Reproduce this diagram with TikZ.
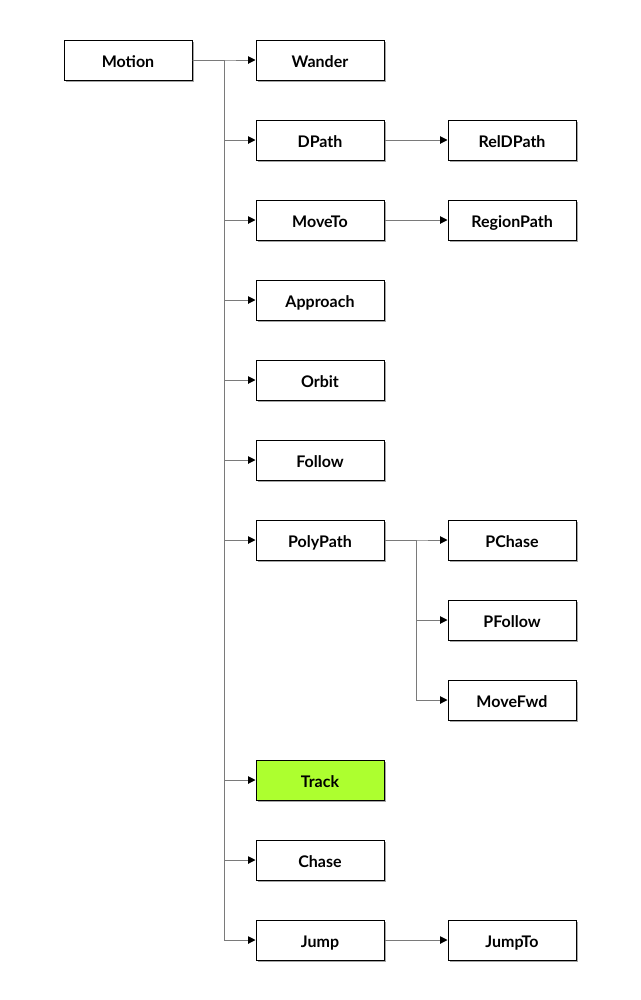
\documentclass[tikz,border=0pt]{standalone}
\usepackage{fontspec}
\setmainfont{Lato}[UprightFont=* Bold]
\usetikzlibrary{arrows.meta,shadows}
\definecolor{linkgray}{HTML}{7A7A7A}
\definecolor{trackgreen}{HTML}{ADFF2F}
\begin{document}
\begin{tikzpicture}[x=0.75pt, y=-0.75pt,
    box/.style={rectangle, draw=black, line width=0.75pt, fill=white, minimum width=96pt, minimum height=30pt, inner sep=0pt,
      text height=11.2pt, text depth=0pt, font=\fontsize{12}{14}\selectfont,
      drop shadow={shadow xshift=1.5pt, shadow yshift=-1.8pt, fill=black, opacity=0.35}},
    link/.style={draw=linkgray, line width=0.75pt, -{Triangle[length=5.5pt, width=5.5pt, color=black, fill=black]}}]
    \useasboundingbox (0, 0) rectangle (640, 1000);
    % Nodes
    \node[box] at (128, 60) (motion) {Motion};
    \node[box] at (320, 60) (wander) {Wander};
    \node[box] at (320, 140) (dpath) {DPath};
    \node[box] at (320, 220) (moveto) {MoveTo};
    \node[box] at (320, 300) (approach) {Approach};
    \node[box] at (320, 380) (orbit) {Orbit};
    \node[box] at (320, 460) (follow) {Follow};
    \node[box] at (320, 540) (polypath) {PolyPath};
    \node[box, fill=trackgreen] at (320, 780) (track) {Track};
    \node[box] at (320, 860) (chase) {Chase};
    \node[box] at (320, 940) (jump) {Jump};

    \node[box] at (512, 140) (reldpath) {RelDPath};
    \node[box] at (512, 220) (regionpath) {RegionPath};
    \node[box] at (512, 540) (pchase) {PChase};
    \node[box] at (512, 620) (pfollow) {PFollow};
    \node[box] at (512, 700) (movefwd) {MoveFwd};
    \node[box] at (512, 940) (jumpto) {JumpTo};

    % Links
    \foreach \child in {wander, dpath, moveto, approach, orbit, follow, polypath, track, chase, jump}
        \draw[link] (motion.east) -- ++(32, 0) |- (\child.west);
    \foreach \child in {pchase, pfollow, movefwd}
        \draw[link] (polypath.east) -- ++(32, 0) |- (\child.west);
    \draw[link] (dpath) -- (reldpath);
    \draw[link] (moveto) -- (regionpath);
    \draw[link] (jump) -- (jumpto);

  \end{tikzpicture}
\end{document}
